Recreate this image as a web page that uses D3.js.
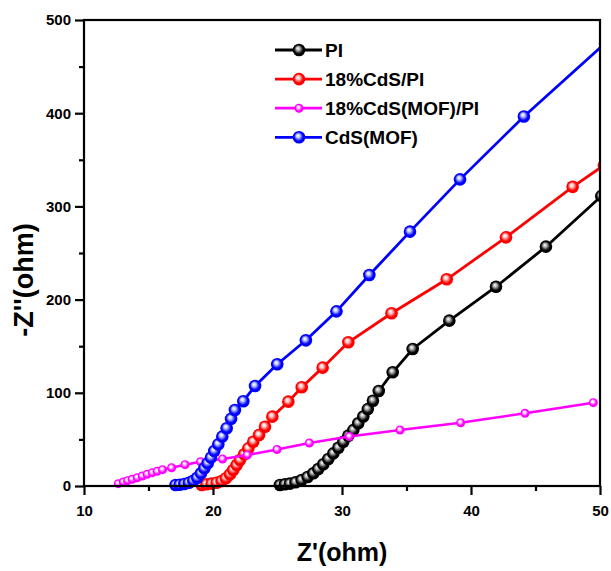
<!DOCTYPE html>
<html><head><meta charset="utf-8">
<script src="https://cdn.jsdelivr.net/npm/d3@7/dist/d3.min.js"></script>
<style>body{margin:0;background:#fff}svg{display:block}text{font-family:"Liberation Sans",Arial,sans-serif;font-weight:bold}</style>
</head><body><svg id="c" width="611" height="571"></svg>
<script>
const seriesNames = ["PI","18%CdS/PI","18%CdS(MOF)/PI","CdS(MOF)"];
const seriesColors = ["#000000","#ff0000","#ff00ff","#0000ff"];
const xTicks = [10,20,30,40,50];
const yTicks = [0,100,200,300,400,500];

const piX = [25.19,25.58,25.96,26.4,26.87,27.34,27.78,28.16,28.55,28.94,29.33,29.72,30.1,30.49,30.88,31.26,31.65,32.0,32.4,32.85,33.93,35.48,38.32,41.94,45.81,50.1];
const piY = [1.1,1.8,2.5,4,6.4,9.7,13.6,18.2,23.3,29,35,41.1,47.5,54,60,67.3,74.5,82.5,91.5,102,122,147,177.4,213.8,256.8,311];

const cdsPiX = [19.12,19.5,19.9,20.28,20.67,21.0,21.32,21.57,21.84,22.09,22.42,22.74,23.12,23.57,24.03,24.6,25.84,26.88,28.5,30.49,33.84,38.12,42.71,47.88,50.3];
const cdsPiY = [1.1,1.8,2.5,3.5,5.4,8.3,12.6,17.2,22.5,27.9,34,40.4,47.5,54.7,63.6,74.4,90.5,106,127,154.2,185.3,221.8,266.8,321,344];

const mofPiX = [12.66,13.05,13.38,13.74,14.13,14.52,14.9,15.3,15.68,16.09,16.79,17.83,19.03,20.74,22.66,24.96,27.47,30.57,34.5,39.2,44.19,49.48];
const mofPiY = [2.5,4.3,5.7,7.2,8.9,10.7,12.6,14.3,15.8,17.5,19.6,22.9,26,29,33.3,39.2,46.1,53.1,60.1,67.9,78,89.4];

const mofX = [17.1,17.42,17.78,18.13,18.47,18.78,19.07,19.33,19.59,19.84,20.1,20.41,20.72,21.06,21.4,21.7,22.35,23.26,24.98,27.2,29.57,32.12,35.27,39.15,44.1,50.4];
const mofY = [1.1,1.4,2.1,3.5,5.7,8.9,13.6,19,24.4,30.4,37.5,44.7,53,62,72,81.5,91,107.3,130.6,156.3,187.4,226.4,272.9,329,396.5,475];

const seriesX = [piX, cdsPiX, mofPiX, mofX];
const seriesY = [piY, cdsPiY, mofPiY, mofY];

const svg = d3.select("#c");
const L=84, R=600, T=20, B=486;
const x = d3.scaleLinear().domain([10,50]).range([L,R]);
const y = d3.scaleLinear().domain([0,500]).range([B,T]);

const defs = svg.append("defs");
const hl = ["#bbbbbb","#ffd0d0","#ffe0ff","#c8d0ff"];
seriesColors.forEach((c,i)=>{
  const g = defs.append("radialGradient").attr("id","g"+i).attr("cx","50%").attr("cy","50%").attr("r","55%").attr("fx","40%").attr("fy","35%");
  g.append("stop").attr("offset","0%").attr("stop-color","#ffffff");
  g.append("stop").attr("offset","25%").attr("stop-color",hl[i]);
  g.append("stop").attr("offset","65%").attr("stop-color",c);
  g.append("stop").attr("offset","100%").attr("stop-color",c);
});
defs.append("clipPath").attr("id","clip").append("rect").attr("x",0).attr("y",T).attr("width",R).attr("height",B-T+10);

const plot = svg.append("g").attr("clip-path","url(#clip)");
const line = d3.line().x(d=>x(d[0])).y(d=>y(d[1]));
seriesNames.forEach((n,i)=>{
  const pts = seriesX[i].map((v,j)=>[v,seriesY[i][j]]);
  const small = i===2;
  plot.append("path").datum(pts).attr("d",line).attr("fill","none").attr("stroke",seriesColors[i]).attr("stroke-width",small?2.6:2.8);
  plot.selectAll(null).data(pts).enter().append("circle")
    .attr("cx",d=>x(d[0])).attr("cy",d=>y(d[1])).attr("r",small?4.5:6.3)
    .attr("fill","url(#g"+i+")");
});

// frame
svg.append("rect").attr("x",L).attr("y",T).attr("width",R-L).attr("height",B-T).attr("fill","none").attr("stroke","#000").attr("stroke-width",2.2);

// bottom axis
const gx = svg.append("g").attr("transform",`translate(0,${B})`);
gx.call(d3.axisBottom(x).tickValues(xTicks).tickSize(9).tickPadding(10).tickFormat(d3.format("d")));
const gxm = svg.append("g").attr("transform",`translate(0,${B})`);
gxm.call(d3.axisBottom(x).tickValues([15,25,35,45]).tickSize(5).tickFormat(""));
// left axis
const gy = svg.append("g").attr("transform",`translate(${L},0)`);
gy.call(d3.axisLeft(y).tickValues(yTicks).tickSize(9).tickPadding(4).tickFormat(d3.format("d")));
const gym = svg.append("g").attr("transform",`translate(${L},0)`);
gym.call(d3.axisLeft(y).tickValues([50,150,250,350,450]).tickSize(5).tickFormat(""));
[gx,gxm,gy,gym].forEach(g=>{
  g.select(".domain").remove();
  g.selectAll(".tick line").attr("stroke","#000").attr("stroke-width",2.2);
  g.selectAll(".tick text").attr("fill","#000").style("font-size","15px").style("font-weight","bold");
});

// axis titles
svg.append("text").attr("x",342).attr("y",561).attr("text-anchor","middle").style("font-size","25px").text("Z'(ohm)");
svg.append("text").attr("transform","translate(33,280) rotate(-90)").attr("text-anchor","middle").style("font-size","27px").text("-Z''(ohm)");

// legend
const lg = svg.append("g");
seriesNames.forEach((n,i)=>{
  const yy = 50 + i*29.1;
  lg.append("line").attr("x1",275).attr("x2",322).attr("y1",yy).attr("y2",yy).attr("stroke",seriesColors[i]).attr("stroke-width",2.8);
  lg.append("circle").attr("cx",299).attr("cy",yy).attr("r",i===2?4.5:6.3).attr("fill","url(#g"+i+")");
  lg.append("text").attr("x",325).attr("y",yy+7).style("font-size","19px").text(n);
});
</script></body></html>
